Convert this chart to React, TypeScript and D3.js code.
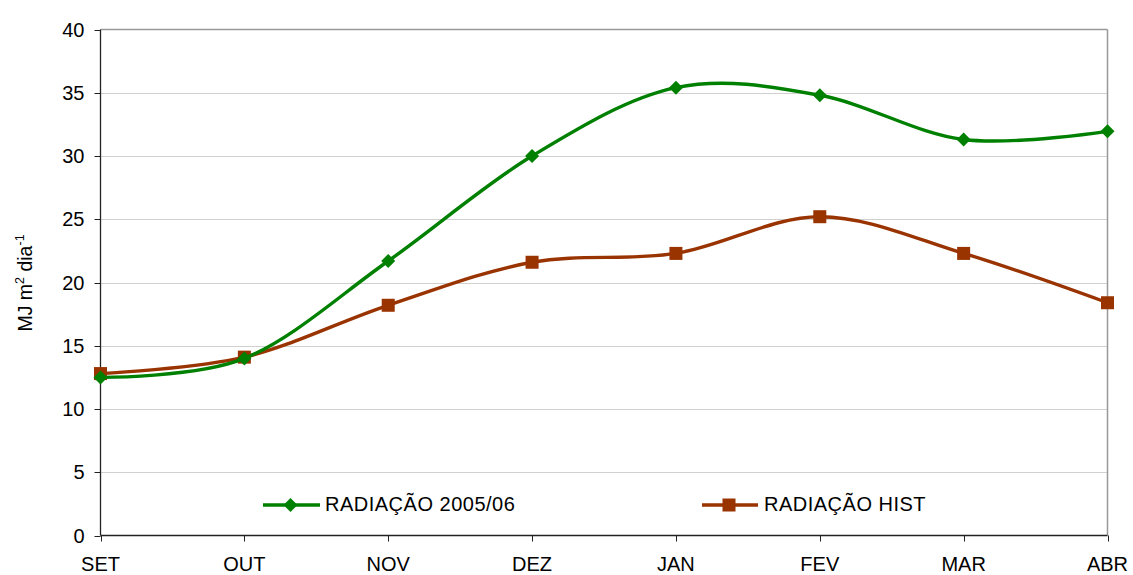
import React from "react";
import * as d3 from "d3";

const months = ["SET", "OUT", "NOV", "DEZ", "JAN", "FEV", "MAR", "ABR"];
const radiacao2005 = [12.5, 14.0, 21.7, 30.0, 35.4, 34.8, 31.3, 31.95];
const radiacaoHist = [12.8, 14.1, 18.2, 21.6, 22.3, 25.2, 22.3, 18.4];
const yTicks = [0, 5, 10, 15, 20, 25, 30, 35, 40];

const W = 1133;
const H = 575;
const m = { left: 100.5, right: 1107.5, top: 29.5, bottom: 535.5 };
const GREEN = "#008000";
const RED = "#993300";
const FONT = "'Liberation Sans', Arial, sans-serif";

export default function App() {
  const x = d3
    .scalePoint<string>()
    .domain(months)
    .range([m.left, m.right]);
  const y = d3.scaleLinear().domain([0, 40]).range([m.bottom, m.top]);

  const line = d3
    .line<number>()
    .x((_, i) => x(months[i]) as number)
    .y((d) => y(d))
    .curve(d3.curveCardinal.tension(0));

  const diamond = (cx: number, cy: number, r = 7) =>
    `M${cx},${cy - r}L${cx + r},${cy}L${cx},${cy + r}L${cx - r},${cy}Z`;

  return (
    <svg
      width={W}
      height={H}
      style={{ position: "absolute", left: 0, top: 0, background: "#fff" }}
      fontFamily={FONT}
    >
      {/* horizontal gridlines */}
      {yTicks
        .filter((t) => t > 0 && t < 40)
        .map((t) => (
          <line
            key={t}
            x1={m.left}
            x2={m.right}
            y1={Math.round(y(t)) + 0.5}
            y2={Math.round(y(t)) + 0.5}
            stroke="#d0d0d0"
            strokeWidth={1}
          />
        ))}
      {/* plot frame top/right */}
      <line x1={m.left} x2={m.right} y1={m.top} y2={m.top} stroke="#999" strokeWidth={1.5} />
      <line x1={m.right} x2={m.right} y1={m.top} y2={m.bottom} stroke="#999" strokeWidth={1.5} />

      {/* y axis */}
      <line x1={m.left} x2={m.left} y1={m.top} y2={m.bottom} stroke="#222" strokeWidth={1.3} />
      {yTicks.map((t) => (
        <g key={t}>
          <line
            x1={m.left - 6}
            x2={m.left}
            y1={Math.round(y(t)) + 0.5}
            y2={Math.round(y(t)) + 0.5}
            stroke="#222"
            strokeWidth={1}
          />
          <text
            x={m.left - 16}
            y={y(t)}
            dy="0.36em"
            textAnchor="end"
            fontSize={20}
            fill="#000"
          >
            {t}
          </text>
        </g>
      ))}

      {/* x axis */}
      <line x1={m.left} x2={m.right} y1={m.bottom} y2={m.bottom} stroke="#222" strokeWidth={1.3} />
      {months.map((mo) => (
        <g key={mo}>
          <line
            x1={Math.round(x(mo) as number) + 0.5}
            x2={Math.round(x(mo) as number) + 0.5}
            y1={m.bottom}
            y2={m.bottom + 6}
            stroke="#222"
            strokeWidth={1}
          />
          <text
            x={x(mo) as number}
            y={571}
            textAnchor="middle"
            fontSize={20}
            fill="#000"
          >
            {mo}
          </text>
        </g>
      ))}

      {/* y axis title */}
      <text
        transform={`translate(32,283) rotate(-90)`}
        textAnchor="middle"
        fontSize={19.5}
        fill="#000"
      >
        MJ m
        <tspan fontSize={12.5} dy={-8}>2</tspan>
        <tspan dy={8}> dia</tspan>
        <tspan fontSize={12.5} dy={-8}>-1</tspan>
      </text>

      {/* series */}
      <path d={line(radiacaoHist) ?? ""} fill="none" stroke={RED} strokeWidth={3.4} />
      {radiacaoHist.map((v, i) => (
        <rect
          key={i}
          x={(x(months[i]) as number) - 6.5}
          y={y(v) - 6.5}
          width={13}
          height={13}
          fill={RED}
        />
      ))}
      <path d={line(radiacao2005) ?? ""} fill="none" stroke={GREEN} strokeWidth={3.4} />
      {radiacao2005.map((v, i) => (
        <path key={i} d={diamond(x(months[i]) as number, y(v))} fill={GREEN} />
      ))}

      {/* legend */}
      <g>
        <line x1={263} x2={320} y1={505} y2={505} stroke={GREEN} strokeWidth={3.4} />
        <path d={diamond(290.5, 505)} fill={GREEN} />
        <text x={325} y={511} fontSize={20} fill="#000" letterSpacing={0.5}>
          RADIAÇÃO 2005/06
        </text>
        <line x1={702} x2={758} y1={505} y2={505} stroke={RED} strokeWidth={3.4} />
        <rect x={722.5} y={498.5} width={13} height={13} fill={RED} />
        <text x={764} y={511} fontSize={20} fill="#000" letterSpacing={0.5}>
          RADIAÇÃO HIST
        </text>
      </g>
    </svg>
  );
}
